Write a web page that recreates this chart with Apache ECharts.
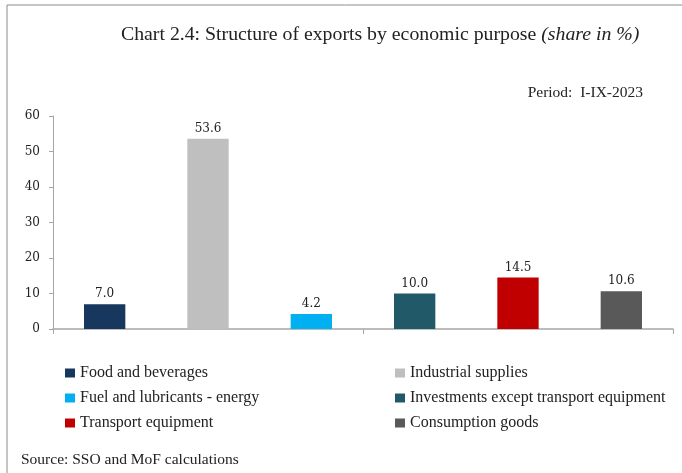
<!DOCTYPE html>
<html>
<head>
<meta charset="utf-8">
<script src="https://cdn.jsdelivr.net/npm/echarts@6/dist/echarts.min.js"></script>
<style>
html, body { margin: 0; padding: 0; background: #fff; }
#chart { width: 682px; height: 473px; }
</style>
</head>
<body>
<div id="chart"></div>
<script>
const categories = ['Food and beverages', 'Industrial supplies', 'Fuel and lubricants - energy',
    'Investments except transport equipment', 'Transport equipment', 'Consumption goods']
const shares = [7.0, 53.6, 4.2, 10.0, 14.5, 10.6]
const colors = ['#17375e', '#bfbfbf', '#00b0f0', '#215968', '#c00000', '#595959']
const yTicks = { min: 0, max: 60, interval: 10 }

const chart = echarts.init(document.getElementById('chart'))

// one series per category, stacked so every bar stays centred in its slot
const series = categories.map((name, i) => ({
    name: name,
    type: 'bar',
    stack: 'all',
    barWidth: '40%',
    itemStyle: { color: colors[i] },
    label: {
        show: true,
        position: 'top',
        distance: 4,
        formatter: p => p.value.toFixed(1),
        fontFamily: 'DejaVu Serif',
        fontSize: 12,
        color: '#222',
    },
    data: shares.map((v, j) => (j === i ? v : null)),
}))

const legendText = {
    fontFamily: 'Liberation Serif',
    fontSize: 16,
    color: '#222',
}

const option = {
    animation: false,
    title: {
        text: '{n|Chart 2.4: Structure of exports by economic purpose }{i|(share in %)}',
        left: 116,
        top: 20,
        textStyle: {
            fontWeight: 'normal',
            rich: {
                n: { fontFamily: 'Liberation Serif', fontSize: 19.8, fontWeight: 'normal', color: '#222' },
                i: { fontFamily: 'Liberation Serif', fontSize: 19.8, fontWeight: 'normal', fontStyle: 'italic', color: '#222' },
            },
        },
    },
    graphic: [
        {
            type: 'polyline',
            shape: { points: [[7, 473], [7, 5], [682, 5]] },
            style: { stroke: '#8c8c8c', lineWidth: 1, fill: null },
        },
        {
            type: 'text',
            right: 39,
            top: 85,
            style: { text: 'Period:  I-IX-2023', font: '15.5px "Liberation Serif"', fill: '#222' },
        },
        {
            type: 'text',
            left: 21,
            top: 452,
            style: { text: 'Source: SSO and MoF calculations', font: '15.5px "Liberation Serif"', fill: '#222' },
        },
    ],
    legend: [
        {
            orient: 'vertical',
            left: 60,
            top: 360,
            itemWidth: 10,
            itemHeight: 9,
            itemGap: 9,
            icon: 'rect',
            textStyle: legendText,
            data: [categories[0], categories[2], categories[4]],
        },
        {
            orient: 'vertical',
            left: 390,
            top: 360,
            itemWidth: 10,
            itemHeight: 9,
            itemGap: 9,
            icon: 'rect',
            textStyle: legendText,
            data: [categories[1], categories[3], categories[5]],
        },
    ],
    grid: { left: 53, right: 9, top: 116, bottom: 144 },
    xAxis: {
        type: 'category',
        data: categories,
        axisLine: { lineStyle: { color: '#a6a6a6', width: 1.5 } },
        axisTick: { show: true, length: 5, lineStyle: { color: '#a6a6a6' } },
        axisLabel: { show: false },
    },
    yAxis: {
        type: 'value',
        min: yTicks.min,
        max: yTicks.max,
        interval: yTicks.interval,
        splitLine: { show: false },
        axisLine: { show: true, lineStyle: { color: '#a6a6a6' } },
        axisTick: { show: true, length: 4, lineStyle: { color: '#a6a6a6' } },
        axisLabel: { fontFamily: 'DejaVu Serif', fontSize: 12, color: '#222', margin: 13 },
    },
    series: series,
}

chart.setOption(option)
</script>
</body>
</html>
